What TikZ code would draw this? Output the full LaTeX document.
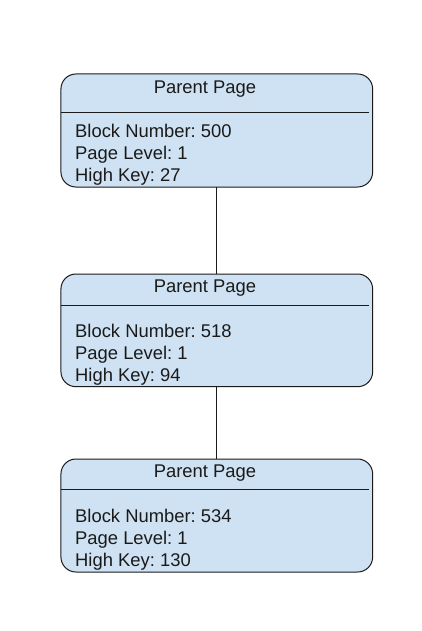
\documentclass[tikz,border=0pt]{standalone}
\usepackage{fontspec}
\setmainfont{Liberation Sans}
\frenchspacing
\definecolor{boxblue}{HTML}{CFE2F3}
\definecolor{ink}{HTML}{1A1A1A}
\begin{document}
\frenchspacing
\begin{tikzpicture}[x=1pt,y=-1pt,
  page/.style={draw=ink, line width=1pt, fill=boxblue, rounded corners=15pt,
    minimum width=311.7pt, minimum height=113pt, inner sep=0pt, outer sep=0pt},
  sepline/.style={draw=ink, line width=0.9pt},
  conn/.style={draw=ink, line width=0.9pt},
  lbl/.style={anchor=base west, inner sep=0pt, text=ink, font=\fontsize{18.4}{22}\selectfont},
  ttl/.style={anchor=base, inner sep=0pt, text=ink, font=\fontsize{18.4}{22}\selectfont}]
\useasboundingbox (0,0) rectangle (421,631);
\fill[white] (0,0) rectangle (421,631);
% boxes
\node[page] (b1) at (216.8,130.5) {};
\node[page, minimum height=112.7pt] (b2) at (216.8,330.35) {};
\node[page] (b3) at (216.8,515.5) {};
% separators
\draw[sepline] ([yshift=-38.7pt]b1.north west) -- ([yshift=-38.7pt,xshift=-4pt]b1.north east);
\draw[sepline] ([yshift=-31pt]b2.north west) -- ([yshift=-31pt,xshift=-4pt]b2.north east);
\draw[sepline] ([yshift=-30pt]b3.north west) -- ([yshift=-30pt,xshift=-4pt]b3.north east);
% texts box 1
\node[ttl] (t1) at (205,93.3) {Parent Page};
\node[lbl] (a1) at (75,137.7) {Block Number: 500};
\node[lbl] (c1) at (75,159.5) {Page Level: 1};
\node[lbl] (d1) at (75,181.7) {High Key: 27};
% texts box 2
\node[ttl] (t2) at (205,292.7) {Parent Page};
\node[lbl] (a2) at (75,337.7) {Block Number: 518};
\node[lbl] (c2) at (75,359.5) {Page Level: 1};
\node[lbl] (d2) at (75,381.7) {High Key: 94};
% texts box 3
\node[ttl] (t3) at (205,477.3) {Parent Page};
\node[lbl] (a3) at (75,522.7) {Block Number: 534};
\node[lbl] (c3) at (75,544.5) {Page Level: 1};
\node[lbl] (d3) at (75,566.7) {High Key: 130};
% connectors
\draw[conn] (b1.south) -- (b2.north);
\draw[conn] (b2.south) -- (b3.north);
\end{tikzpicture}
\end{document}
